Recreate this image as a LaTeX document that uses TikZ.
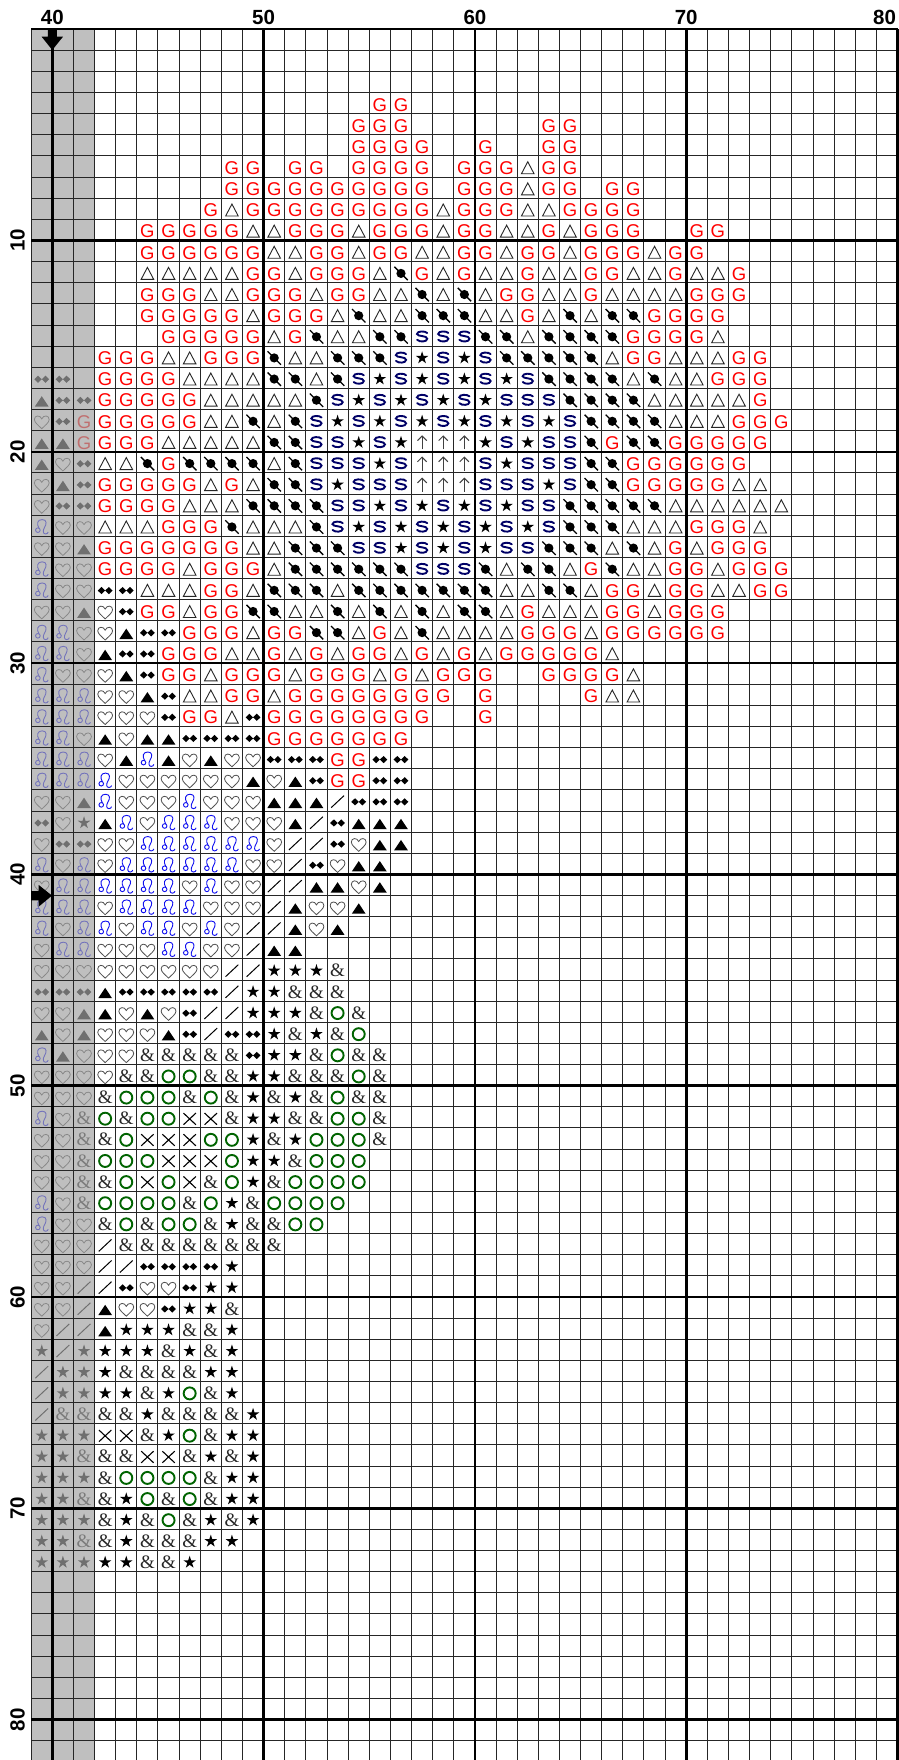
\documentclass[tikz,border=0pt]{standalone}
\usepackage{fontspec}
\newfontfamily\arialfont{Liberation Sans}
\newfontfamily\timesfont{Liberation Serif}
\definecolor{symRed}{HTML}{FF0000}
\definecolor{symNavy}{HTML}{000066}
\definecolor{symGreen}{HTML}{006400}
\definecolor{symBlue}{HTML}{1010F0}
\definecolor{symHeart}{HTML}{505050}
\definecolor{veilGrey}{HTML}{A3A3A3}

% One chart symbol per letter, drawn round (\cx,\cy)
\newcommand{\symG}{\node[gsym] (g\the\cellcol x\rowno) at (\cx,\cy+1.6) {G};}
\newcommand{\symE}{\node[esym] (e\the\cellcol x\rowno) at (\cx,\cy+1.2) {\&};}
\newcommand{\symT}{\draw[tsym, shift={(\cx,\cy)}] (0,-4.8) -- (6.3,7.2) -- (-6.3,7.2) -- cycle;}
\newcommand{\symA}{\fill[asym, shift={(\cx,\cy)}] (0,-2.8) -- (6.9,7.6) -- (-6.9,7.6) -- cycle;}
\newcommand{\symB}{\fill[black, shift={(\cx,\cy+1.2)}] (0,0) circle (4.6);
    \draw[bsym, shift={(\cx,\cy+1.2)}] (-6.6,-6.6) -- (6.8,6.8);}
\newcommand{\symS}{\draw[ssym, shift={(\cx,\cy+1)}] (5.1,-3.6) .. controls (3.4,-5.8) and (-5.2,-5.8) .. (-5.1,-2.6)
    .. controls (-5,0.2) and (5.2,-1.4) .. (5.1,2.2) .. controls (5,5.4) and (-2.6,5.8) .. (-5,3.2);}
\newcommand{\symK}{\fill[black, shift={(\cx,\cy+1.2)}] (-90:6.6) -- (-54:2.5) -- (-18:6.6) -- (18:2.5) -- (54:6.6)
    -- (90:2.5) -- (126:6.6) -- (162:2.5) -- (198:6.6) -- (234:2.5) -- cycle;}
\newcommand{\symU}{\draw[usym, shift={(\cx,\cy)}] (0,8.2) -- (0,-5);
    \draw[usym, shift={(\cx,\cy)}] (-4.6,-0.6) -- (0,-5.2) -- (4.6,-0.6);}
\newcommand{\symD}{\fill[black, shift={(\cx,\cy+1.4)}] (-7.4,0) -- (-3.7,-3.6) -- (0,0) -- (3.7,-3.6) -- (7.4,0)
    -- (3.7,3.6) -- (0,0) -- (-3.7,3.6) -- cycle;}
\newcommand{\symH}{\draw[hsym, shift={(\cx,\cy+1.6)}] (0,7) .. controls (-3,4) and (-7.4,0.8) .. (-7.4,-2.2)
    .. controls (-7.4,-6.6) and (-1.6,-7) .. (0,-2.8) .. controls (1.6,-7) and (7.4,-6.6) .. (7.4,-2.2)
    .. controls (7.4,0.8) and (3,4) .. (0,7) -- cycle;}
\newcommand{\symL}{\draw[lsym, shift={(\cx,\cy+1)}] (-3.9,3.4) circle (2.3);
    \draw[lsym, shift={(\cx,\cy+1)}] (-2.8,1.4) .. controls (-5.4,-3) and (-4.4,-7.2) .. (0.4,-7.2)
    .. controls (5.4,-7.2) and (5,-2.6) .. (2.6,1) .. controls (1,3.6) and (1,7.2) .. (3.8,7.2)
    .. controls (5.4,7.2) and (6.2,6.2) .. (6.4,5.2);}
\newcommand{\symZ}{\draw[zsym, shift={(\cx,\cy)}] (-6.4,7.2) -- (6.4,-4.8);}
\newcommand{\symO}{\draw[osym, shift={(\cx,\cy+1.3)}] (0,0) circle (6);}
\newcommand{\symX}{\draw[xsym, shift={(\cx,\cy+1.5)}] (-6.2,-5.8) -- (6.2,5.8) (-6.2,5.8) -- (6.2,-5.8);}

% Row of the chart: one letter per cell, a dot for an empty cell
\newcount\cellcol
\newcommand{\chartrow}[2]{\def\rowno{#1}\cellcol=0 \parsecells#2;}
\def\parsecells#1{\ifx#1;\else\placecell{#1}\advance\cellcol by 1 \expandafter\parsecells\fi}
\def\placecell#1{%
    \pgfmathsetmacro\cx{31.2+21.13*(\the\cellcol+0.5)}%
    \pgfmathsetmacro\cy{29.2+21.13*(\rowno+0.5)}%
    \csname sym#1\endcsname}

\begin{document}
\begin{tikzpicture}[
    x=1pt, y=-1pt,
    gsym/.style={text=symRed, inner sep=0pt, font=\arialfont\fontsize{18.5}{18.5}\selectfont},
    esym/.style={text=black!85, inner sep=0pt, font=\timesfont\fontsize{19}{19}\selectfont},
    tsym/.style={draw=black!85, line width=0.9pt, line join=miter},
    asym/.style={black},
    bsym/.style={black, line width=1.3pt},
    ssym/.style={symNavy, line width=1.9pt, line cap=round},
    usym/.style={black!75, line width=1pt},
    hsym/.style={symHeart, line width=0.8pt},
    lsym/.style={symBlue, line width=0.9pt},
    zsym/.style={black, line width=1pt},
    osym/.style={symGreen, line width=1.9pt},
    xsym/.style={black, line width=1.1pt},
    veil/.style={fill=veilGrey, fill opacity=0.686},
    gridline/.style={black!85, line width=1pt},
    gridmajor/.style={black, line width=2.6pt},
    lbl/.style={inner sep=0pt, font=\arialfont\bfseries\fontsize{20.5}{20.5}\selectfont},
]
\useasboundingbox (0,0) rectangle (898,1760);
\fill[white] (0,0) rectangle (898,1760);

% Symbols, row by row
\chartrow{3}{................GG}
\chartrow{4}{...............GGG......GG}
\chartrow{5}{...............GGGG..G..GG}
\chartrow{6}{.........GG.GG.GGGG.GGGTGG}
\chartrow{7}{.........GGGGGGGGGG.GGGTGG.GG}
\chartrow{8}{........GTGGGGGGGGGTGGGTTGGGG}
\chartrow{9}{.....GGGGGTTGGGTGGGTGGTTGTGGG..GG}
\chartrow{10}{.....GGGGGGTTGGTGGTTGGTGGTGGGTGG}
\chartrow{11}{.....TTTTTGGTGGGTBGTGTTGTTGGTTGTTG}
\chartrow{12}{.....GGGTTGGGTGGTTBTBTGGTTGTTTTGGG}
\chartrow{13}{.....GGGGGTGGGTBTTBBBTTGTBTBBGGGG}
\chartrow{14}{......GGGGGTGBTTBBSSSBBTBBBBGGGGT}
\chartrow{15}{...GGGTTGGGBTTBBBSKSKSBBBBBTGGTTTGG}
\chartrow{16}{DD.GGGGTTTTBBTBSKSKSKSKSBBBBTBTTGGG}
\chartrow{17}{ADDGGGGGTTTTTBSKSKSKSKSSSBBBBTTTTTG}
\chartrow{18}{HDGGGGGGTTBTBSKSKSKSKSKSKSBBBBTTTGGG}
\chartrow{19}{AAGGGGTTTTTBBSSKSKUUUKSKSSBGBBGGGGG}
\chartrow{20}{AHDTTBGBBBBTBSSSKSUUUSKSSSBBGGGGGG}
\chartrow{21}{HADGGGGGTGTBBSKSSSUUUSSSKSBBGGGGGTT}
\chartrow{22}{HDDGGGGTTTBBBBSSKSKSKSKSSBBBBBTTTTTT}
\chartrow{23}{LHHTTTGGGBTTTBSKSKSKSKSKSBBBTTTGGGT}
\chartrow{24}{HHAGGGGGGGTTBBBSSKSKSKSSBBBTBTGTGGG}
\chartrow{25}{LHHGGGGTGGGTBBBBBBSSSBTBBTGBTTGGTGGG}
\chartrow{26}{LHHDDTTTGGTBBBTBBBBBBBTTBBTGGTGGTTGG}
\chartrow{27}{HHAHDGGTGGBBTTBTBTBTBBTGTTTGGTGGG}
\chartrow{28}{LLHHADDGGGTGGBBTGTBTTTTGGGTGGGGGG}
\chartrow{29}{LLHADDGGGTTGTGTGGTGTGTGGGGGT}
\chartrow{30}{LHHHADGGTGGGTGGGTGTGGG..GGGGT}
\chartrow{31}{LLLHHADTTGGTGGGGGGGG.G....GTT}
\chartrow{32}{LLLHHHDGGTDGGGGGGGG..G}
\chartrow{33}{LLHAHAADDDDGGGGGGG}
\chartrow{34}{LLLHALAHAHHDDDGGDD}
\chartrow{35}{LLLLHHHHHHAHADGGDD}
\chartrow{36}{HHALHHHLHHHAAAZDDD}
\chartrow{37}{DHKALHLLLHHHAZDAAA}
\chartrow{38}{HDDHHLLLLLLHZZDHAA}
\chartrow{39}{LHLHLLLLLLHHZDHAA}
\chartrow{40}{HLLLLLLHLHHZZAAHA}
\chartrow{41}{LLLHLLLLHHHZAHHA}
\chartrow{42}{LHLLHLLHLHZZAHA}
\chartrow{43}{HLLHHHLLHHZAA}
\chartrow{44}{HHHHHHHHHZZKKKE}
\chartrow{45}{DDDADDDDDZKKEEE}
\chartrow{46}{HHAAHAHDZZKKKEOE}
\chartrow{47}{AHAHHHADZDDKEKEO}
\chartrow{48}{LAHHHEEEEEDKKEOEE}
\chartrow{49}{HHHHEEOOEEKKEEEOE}
\chartrow{50}{HHHEOOOEOEKEKEOEE}
\chartrow{51}{LHEOEOOXXEKKEEOOE}
\chartrow{52}{HHEEOXXXOOKEKOOOE}
\chartrow{53}{HHEOOOXXXOKKEOOO}
\chartrow{54}{HHEEOXOXEOKEOOOO}
\chartrow{55}{LHEOOOOEOKEOOOO}
\chartrow{56}{LHHEOEOOEKEEOO}
\chartrow{57}{HHHZEEEEEEEE}
\chartrow{58}{HHHZZDDDDK}
\chartrow{59}{HHZZDHHDKK}
\chartrow{60}{HHZAHHDKKE}
\chartrow{61}{HZZAKKKEEK}
\chartrow{62}{KZKKKKEKEK}
\chartrow{63}{ZKKKEEEEKK}
\chartrow{64}{ZKKKKEKOEK}
\chartrow{65}{ZEEEEKEEEEK}
\chartrow{66}{KKKXXEKOEKK}
\chartrow{67}{KKEEEXXEKEK}
\chartrow{68}{KKKEOOOOEKK}
\chartrow{69}{KKEEKOEOEKK}
\chartrow{70}{KKKEKEOEKEK}
\chartrow{71}{KKEEKEEEKK}
\chartrow{72}{KKKKKEEK}

% Grey columns on the left
\fill[veil] (31.2,29.2) rectangle (94.6,1760);

% Grid
\foreach \c in {0,...,41}
    \draw[gridline] ({31.2+21.13*\c},29.2) -- ({31.2+21.13*\c},1760);
\foreach \r in {0,...,81}
    \draw[gridline] (31.2,{29.2+21.13*\r}) -- (898,{29.2+21.13*\r});
\foreach \c in {1,11,21,31,41}
    \draw[gridmajor] ({31.2+21.13*\c},29.2) -- ({31.2+21.13*\c},1760);
\foreach \r in {10,20,...,80}
    \draw[gridmajor] (31.2,{29.2+21.13*\r}) -- (898,{29.2+21.13*\r});
\draw[black, line width=1.6pt] (31.2,29.2) -- (898,29.2);

% Column numbers
\node[lbl] (top40) at (52.3,17) {40};
\node[lbl] (top50) at (263.6,17) {50};
\node[lbl] (top60) at (474.9,17) {60};
\node[lbl] (top70) at (686.2,17) {70};
\node[lbl] (top80) at (884.5,17) {80};

% Row numbers
\foreach \r in {10,20,...,80}
    \node[lbl, rotate=90] (side\r) at (17.5,{29.2+21.13*\r}) {\r};

% Centre arrows
\fill[black] (47.8,29.2) -- (56.8,29.2) -- (56.8,36.7) -- (63,36.7) -- (52.3,50) -- (41.6,36.7) -- (47.8,36.7) -- cycle;
\fill[black] (31.2,891) -- (38.7,891) -- (38.7,885) -- (52,895.6) -- (38.7,906.6) -- (38.7,900.3) -- (31.2,900.3) -- cycle;

\end{tikzpicture}
\end{document}
